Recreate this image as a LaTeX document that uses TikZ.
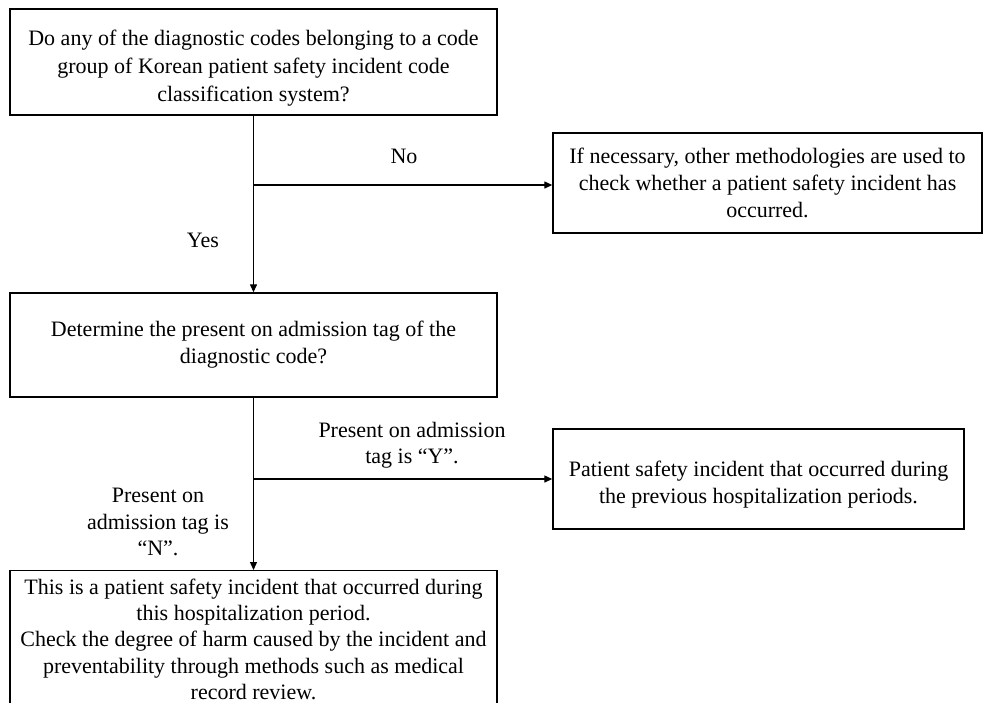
\documentclass[tikz,border=0pt]{standalone}
\usepackage{fontspec}
\setmainfont{Liberation Serif}
\usetikzlibrary{arrows.meta}
\newcommand{\topstrut}[1]{\rule{0pt}{#1}}
\begin{document}
\begin{tikzpicture}[x=1pt,y=-1pt,
  box/.style={draw, line width=1.4pt, rectangle, align=center, inner sep=4pt},
  lbl/.style={align=center, inner sep=0pt, font=\fontsize{22}{26.5}\selectfont},
  flow/.style={line width=1.3pt, -{Triangle[length=8pt,width=7pt]}}]
\useasboundingbox (0,0) rectangle (985,702);
\node[box, minimum width=487pt, minimum height=106pt, font=\fontsize{22}{28}\selectfont] (q1) at (253.5,62)
  {\topstrut{28.2pt}Do any of the diagnostic codes belonging to a code\\group of Korean patient safety incident code\\classification system?};
\node[box, minimum width=429pt, minimum height=100pt, font=\fontsize{22}{27}\selectfont] (r1) at (767.5,183)
  {If necessary, other methodologies are used to\\check whether a patient safety incident has\\occurred.};
\node[box, minimum width=487pt, minimum height=104pt, font=\fontsize{22}{27}\selectfont] (q2) at (253.5,345)
  {Determine the present on admission tag of the\\diagnostic code?};
\node[box, minimum width=411pt, minimum height=100pt, font=\fontsize{22}{26.6}\selectfont] (r2) at (758.5,479)
  {\topstrut{26.8pt}Patient safety incident that occurred during\\the previous hospitalization periods.};
\node[box, minimum width=487pt, inner ysep=8pt, anchor=north,
  font=\fontsize{22}{26.3}\selectfont] (r3) at (253.5,570)
  {This is a patient safety incident that occurred during\\this hospitalization period.\\Check the degree of harm caused by the incident and\\preventability through methods such as medical\\record review.};
\coordinate (j1) at (253.5,185);
\coordinate (j2) at (253.5,479);
\draw[flow] (q1.south) -- (q2.north);
\draw[flow] (j1) -- (r1.west |- j1);
\draw[flow] (q2.south) -- (r3.north);
\draw[flow] (j2) -- (r2.west |- j2);
\node[lbl] (no) at (404,156) {No};
\node[lbl] (yes) at (203,240) {Yes};
\node[lbl] (ly) at (412,445) {Present on admission\\tag is “Y”.};
\node[lbl] (ln) at (158,522) {Present on\\admission tag is\\“N”.};
\end{tikzpicture}
\end{document}
